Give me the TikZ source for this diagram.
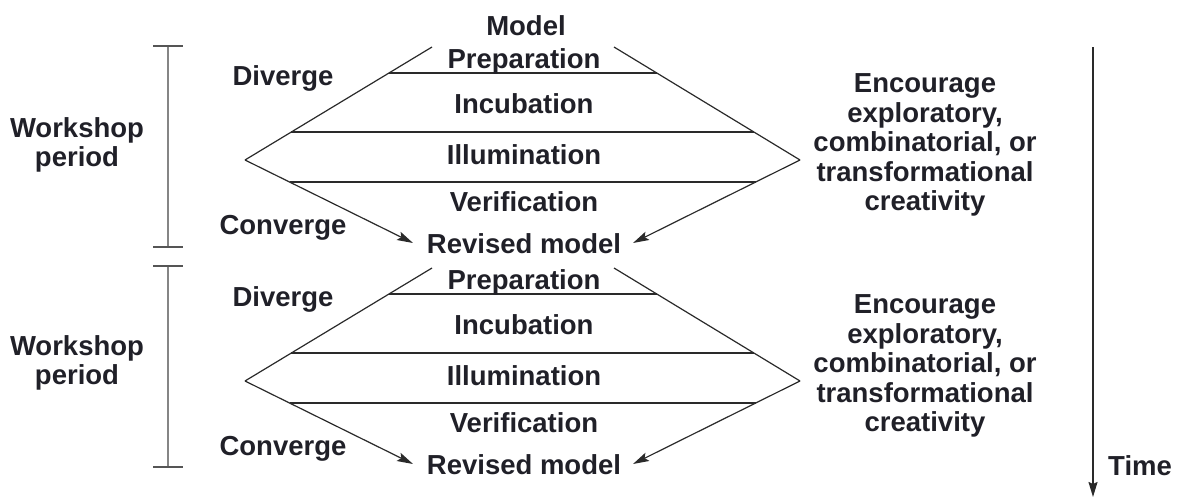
\documentclass[tikz,border=0pt]{standalone}
\usepackage{fontspec}
\setmainfont{Liberation Sans}
\usetikzlibrary{arrows.meta,calc}
\definecolor{ink}{HTML}{202028}
\definecolor{rule}{HTML}{2A2A2A}
\definecolor{bracketgray}{HTML}{858585}
\begin{document}
\begin{tikzpicture}[x=1pt,y=-1pt,
  lbl/.style={font=\fontsize{27.5}{29.5}\selectfont\bfseries, text=ink, inner sep=0pt, anchor=base},
  block/.style={lbl, anchor=center, align=center},
  edge/.style={draw=rule, line width=1.2pt},
  flow/.style={edge, -{Stealth[length=16pt,width=9pt,inset=3pt]}},
  period/.style={draw=bracketgray, line width=1.8pt},
  periodtick/.style={draw=rule!80, line width=1.4pt},
  timeline/.style={draw=rule, line width=1.5pt, -{Stealth[length=15pt,width=9pt,inset=2pt]}},
]
\useasboundingbox (0,0) rectangle (1184,498);

% starting model
\node[lbl] (model) at (526,35) {Model};

% two workshop periods, each a diverge/converge diamond
\foreach \k/\dy/\bdy/\wy in {1/0/0/145, 2/221/220/363}{
  \coordinate (tl\k) at (432,47+\dy);
  \coordinate (tr\k) at (614,47+\dy);
  \coordinate (al\k) at (245,160+\dy);
  \coordinate (ar\k) at (800,160+\dy);
  \coordinate (ml\k) at (413,243+\dy);
  \coordinate (mr\k) at (633,243+\dy);

  % diverging edges and converging arrows
  \draw[edge] (tl\k) -- (al\k);
  \draw[edge] (tr\k) -- (ar\k);
  \draw[flow] (al\k) -- (ml\k);
  \draw[flow] (ar\k) -- (mr\k);

  % stage separators
  \draw[edge] ($(al\k)!0.770!(tl\k)$) -- ($(ar\k)!0.770!(tr\k)$);
  \draw[edge] ($(al\k)!0.248!(tl\k)$) -- ($(ar\k)!0.248!(tr\k)$);
  \draw[edge] ($(al\k)!0.265!(ml\k)$) -- ($(ar\k)!0.265!(mr\k)$);

  % stage names
  \node[lbl] (prep\k) at (524,68+\dy) {Preparation};
  \node[lbl] (incu\k) at (524,113+\dy) {Incubation};
  \node[lbl] (illu\k) at (524,164+\dy) {Illumination};
  \node[lbl] (veri\k) at (524,211+\dy) {Verification};
  \node[lbl] (rev\k) at (524,253+\dy) {Revised model};

  \node[lbl] (div\k) at (283,85+\dy) {Diverge};
  \node[lbl] (conv\k) at (283,234+\dy) {Converge};

  % workshop period bracket
  \draw[period] (168,46+\bdy) -- (168,247+\bdy);
  \draw[periodtick] (153,46+\bdy) -- (183,46+\bdy);
  \draw[periodtick] (153,247+\bdy) -- (183,247+\bdy);
  \node[block] (ws\k) at (77,\wy) {Workshop\\period};

  \node[block] (enc\k) at (925,145+\dy) {Encourage\\exploratory,\\combinatorial, or\\transformational\\creativity};
}

% time axis
\coordinate (t0) at (1093,47);
\coordinate (t1) at (1093,497);
\draw[timeline] (t0) -- (t1);
\node[lbl, anchor=base west] (time) at (1108,475) {Time};
\end{tikzpicture}
\end{document}
